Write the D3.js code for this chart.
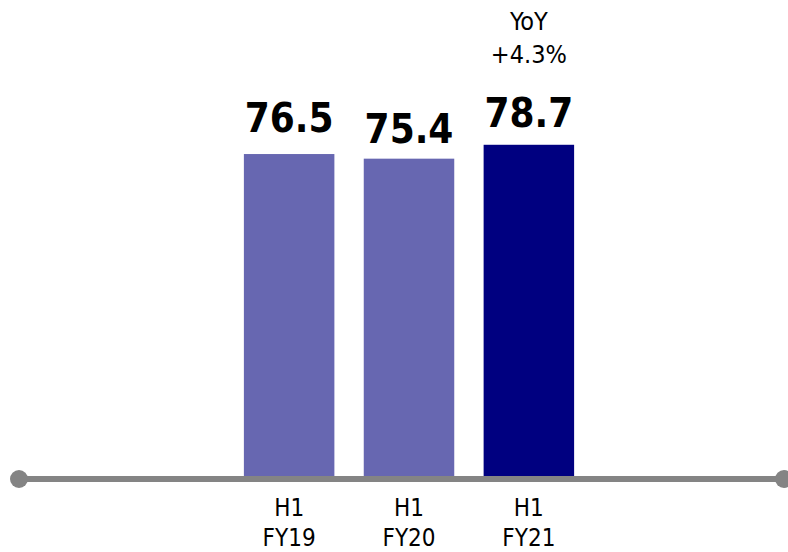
<!DOCTYPE html>
<html>
<head>
<meta charset="utf-8">
<script src="https://cdn.jsdelivr.net/npm/d3@7"></script>
<style>
html,body{margin:0;padding:0;background:#fff;}
svg{display:block;}
</style>
</head>
<body>
<svg id="chart" width="788" height="552"></svg>
<script>
const categories = ["H1\nFY19", "H1\nFY20", "H1\nFY21"];
const values = [76.5, 75.4, 78.7];
const valueLabels = ["76.5", "75.4", "78.7"];
const barColors = ["#6767b1", "#6767b1", "#000080"];
const yoyLabel = ["YoY", "+4.3%"];

const FONT = "'DejaVu Sans Condensed', 'DejaVu Sans', Verdana, sans-serif";
const svg = d3.select("#chart");
const baseY = 476;
const x = d3.scaleBand().domain(categories).range([229.5, 588.5]).paddingInner(0.245).paddingOuter(0.12);
const y = d3.scaleLinear().domain([0, 113.1]).range([baseY, 0]);

svg.selectAll("rect.bar").data(values).enter().append("rect")
  .attr("class", "bar")
  .attr("x", (d, i) => x(categories[i]))
  .attr("width", x.bandwidth())
  .attr("y", d => y(d))
  .attr("height", d => baseY - y(d))
  .attr("fill", (d, i) => barColors[i]);

// axis line with circle ends
svg.append("line").attr("x1", 19).attr("x2", 783).attr("y1", 479).attr("y2", 479)
  .attr("stroke", "#848484").attr("stroke-width", 6);
svg.append("circle").attr("cx", 19).attr("cy", 479).attr("r", 9).attr("fill", "#848484");
svg.append("circle").attr("cx", 784).attr("cy", 479).attr("r", 9).attr("fill", "#848484");

// value labels
const labelOffsets = [22, 16, 18];
svg.selectAll("text.val").data(values).enter().append("text")
  .attr("class", "val")
  .attr("x", (d, i) => x(categories[i]) + x.bandwidth() / 2)
  .attr("y", (d, i) => y(d) - labelOffsets[i])
  .attr("text-anchor", "middle")
  .attr("font-family", FONT)
  .attr("font-weight", "bold")
  .attr("font-size", 40)
  .attr("fill", "#000")
  .text((d, i) => valueLabels[i]);

// YoY annotation
const yoy = svg.append("text")
  .attr("x", x(categories[2]) + x.bandwidth() / 2)
  .attr("text-anchor", "middle")
  .attr("font-family", FONT)
  .attr("font-size", 25)
  .attr("fill", "#000");
yoy.selectAll("tspan").data(yoyLabel).enter().append("tspan")
  .attr("x", x(categories[2]) + x.bandwidth() / 2)
  .attr("y", (d, i) => 30 + i * 32.5)
  .text(d => d);

// category labels
const cat = svg.selectAll("text.cat").data(categories).enter().append("text")
  .attr("class", "cat")
  .attr("text-anchor", "middle")
  .attr("font-family", FONT)
  .attr("font-size", 24)
  .attr("fill", "#000");
cat.each(function(d) {
  const cx = x(d) + x.bandwidth() / 2;
  d3.select(this).selectAll("tspan").data(d.split("\n")).enter().append("tspan")
    .attr("x", cx)
    .attr("y", (t, i) => 516 + i * 30)
    .text(t => t);
});
</script>
</body>
</html>
